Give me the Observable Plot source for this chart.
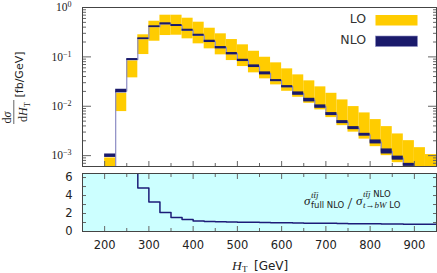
<!DOCTYPE html>
<html><head><meta charset="utf-8">
<script src="https://cdn.jsdelivr.net/npm/d3@7"></script>
<script src="https://cdn.jsdelivr.net/npm/@observablehq/plot@0.6"></script>
<style>
html,body{margin:0;padding:0;background:#fff;}
#wrap{position:relative;width:437px;height:273px;overflow:hidden;}
#wrap > svg{position:absolute;left:0;}
</style></head><body><div id="wrap"></div>
<script>
// ---- data ----
const binEdges = [200,225,250,275,300,325,350,375,400,425,450,475,500,525,550,575,600,625,650,675,700,725,750,775,800,825,850,875,900,925,950];
const loLow  = [4.0e-4,0.0078,0.0376,0.1115,0.2074,0.2706,0.2745,0.232,0.1837,0.1455,0.110,0.0842,0.0637,0.0475,0.0359,0.0271,0.0201,0.0152,0.01148,0.00844,0.00589,0.00405,0.00299,0.00216,0.00152,0.00100,0.00072,0.00050,0.00035,0.00028];
const loHigh = [8.98e-4,0.0183,0.0831,0.280,0.527,0.698,0.698,0.607,0.504,0.3805,0.293,0.2245,0.1753,0.130,0.0983,0.0757,0.0572,0.0432,0.0327,0.0247,0.0183,0.01345,0.00985,0.00733,0.00537,0.00387,0.00275,0.00201,0.00145,0.00105];
const nloLow = [9.2e-4,0.0187,0.0843,0.2245,0.393,0.446,0.412,0.331,0.262,0.1952,0.1455,0.110,0.0804,0.0608,0.0432,0.0316,0.0236,0.01668,0.01226,0.0091,0.00647,0.00445,0.00336,0.00248,0.001726,0.00108,0.00081,0.000607,0.00045,0.00033];
const nloHigh= [1.08e-3,0.0221,0.0925,0.243,0.426,0.490,0.452,0.363,0.2875,0.2174,0.162,0.1224,0.0895,0.0689,0.0497,0.0347,0.0262,0.01954,0.0145,0.01066,0.00744,0.00512,0.00387,0.00283,0.00208,0.001367,0.000977,0.000698,0.00052,0.00038];
const nloCentral = [1e-4,0.0203,0.0883,0.2335,0.409,0.467,0.432,0.347,0.275,0.206,0.1535,0.116,0.0848,0.0647,0.0463,0.0331,0.0249,0.0181,0.01335,0.00985,0.00694,0.00477,0.00361,0.00265,0.00189,0.00122,0.00089,0.00065,0.000485,0.000355];
const ratio = [null,null,10,4.84,3.29,2.11,1.55,1.33,1.18,1.12,1.09,1.06,1.04,1.03,1.0,0.98,0.96,0.95,0.93,0.92,0.91,0.89,0.87,0.86,0.85,0.84,0.83,0.82,0.81,0.82];
const yMajorTicks = [1e-3,1e-2,1e-1,1];
const yTickLabels = ["10^−3","10^−2","10^−1","10^0"];
const xMajorTicks = [200,300,400,500,600,700,800,900];
const xMinorTicks = [250,350,450,550,650,750,850];
const ratioTicks = [0,1,2,3,4,5,6];
const ratioTickLabels = [0,2,4,6];

// ---- derived tables ----
const nb = binEdges.length - 1;
const rows = d3.range(nb).map(i => ({x0: binEdges[i], x1: binEdges[i+1], loLow: loLow[i], loHigh: loHigh[i], nloLow: nloLow[i], nloHigh: nloHigh[i]}));
const steps = binEdges.map((e,i) => ({x: e, y: nloCentral[Math.min(i, nb-1)]}));
const ratioPts = binEdges.map((e,i) => ({x: e, y: ratio[Math.min(i, nb-1)]}));
const yMinor = [];
for (let k = -4; k <= 0; k++) for (let m = 2; m <= 9; m++) { const v = m * Math.pow(10,k); if (v > Math.pow(10,-3.22) && v < 1) yMinor.push(v); }

const YEL = "#ffcc00", NAVY = "#1a1a6b", LINE = "#8c8cc4", TICK = "#666";
const blank = () => "";

const topSvg = Plot.plot({
  width: 437, height: 170, marginTop: 7, marginBottom: 4, marginLeft: 82, marginRight: 1,
  style: {background: "transparent", color: "#222", fontFamily: "Liberation Serif", fontSize: "11.5px"},
  x: {domain: [150, 950], axis: null},
  y: {type: "log", domain: [Math.pow(10,-3.22), 1], axis: null},
  marks: [
    Plot.rect(rows, {x1: "x0", x2: "x1", y1: "loLow", y2: "loHigh", fill: YEL, clip: true}),
    Plot.line(steps, {x: "x", y: "y", curve: "step-after", stroke: LINE, strokeWidth: 1.2, clip: true}),
    Plot.rect(rows, {x1: "x0", x2: "x1", y1: "nloLow", y2: "nloHigh", fill: NAVY, clip: true}),
    Plot.axisY({anchor: "left", ticks: yMinor, tickSize: -4, tickFormat: blank, label: null, stroke: TICK}),
    Plot.axisY({anchor: "left", ticks: yMajorTicks, tickSize: -9, tickFormat: blank, label: null, stroke: TICK}),
    Plot.axisY({anchor: "right", ticks: yMinor, tickSize: -4, tickFormat: blank, label: null, stroke: TICK}),
    Plot.axisY({anchor: "right", ticks: yMajorTicks, tickSize: -9, tickFormat: blank, label: null, stroke: TICK}),
    Plot.axisY({anchor: "left", ticks: yMajorTicks, tickSize: 0, tickPadding: 11, label: null,
      tickFormat: d => yTickLabels[yMajorTicks.indexOf(d)]}),
    Plot.axisX({anchor: "bottom", ticks: xMajorTicks, tickSize: -5, tickFormat: blank, label: null, stroke: TICK}),
    Plot.axisX({anchor: "bottom", ticks: xMinorTicks, tickSize: -3, tickFormat: blank, label: null, stroke: TICK}),
    Plot.frame({stroke: "#444"})
  ]
});
topSvg.style.top = "0px";
d3.select(topSvg).selectAll("text").each(function(){
  const t = this.textContent; const parts = t.split("^");
  if (parts.length === 2) {
    this.textContent = parts[0];
    d3.select(this).append("tspan").attr("dy", "-0.5em").attr("font-size", "8px").text(parts[1]);
  }
});

const botSvg = Plot.plot({
  width: 437, height: 107, marginTop: 7, marginBottom: 42, marginLeft: 82, marginRight: 1,
  style: {background: "transparent", color: "#222", fontFamily: "DejaVu Sans", fontSize: "11.5px"},
  x: {domain: [150, 950], axis: null},
  y: {domain: [0, 6.45], axis: null},
  marks: [
    Plot.frame({fill: "#ccffff"}),
    Plot.line(ratioPts, {x: "x", y: "y", curve: "step-after", stroke: "#1c1c78", strokeWidth: 1.5, clip: true}),
    Plot.axisY({anchor: "left", ticks: ratioTicks, tickSize: -4, tickFormat: blank, label: null, stroke: TICK}),
    Plot.axisY({anchor: "right", ticks: ratioTicks, tickSize: -4, tickFormat: blank, label: null, stroke: TICK}),
    Plot.axisY({anchor: "left", ticks: ratioTickLabels, tickSize: 0, tickPadding: 10, label: null, tickFormat: d => String(d)}),
    Plot.axisX({anchor: "top", ticks: xMajorTicks, tickSize: -5, tickFormat: blank, label: null, stroke: TICK}),
    Plot.axisX({anchor: "top", ticks: xMinorTicks, tickSize: -3, tickFormat: blank, label: null, stroke: TICK}),
    Plot.axisX({anchor: "bottom", ticks: xMajorTicks, tickSize: -5, tickFormat: blank, label: null, stroke: TICK}),
    Plot.axisX({anchor: "bottom", ticks: xMinorTicks, tickSize: -3, tickFormat: blank, label: null, stroke: TICK}),
    Plot.axisX({anchor: "bottom", ticks: xMajorTicks, tickSize: 0, tickPadding: 9, label: null, tickFormat: d => String(d)}),
    Plot.frame({stroke: "#444"})
  ]
});
botSvg.style.top = "166px";

const wrap = document.getElementById("wrap");
wrap.appendChild(topSvg);
wrap.appendChild(botSvg);

// ---- labels, legend ----
const ns = "http://www.w3.org/2000/svg";
const ov = document.createElementNS(ns, "svg");
ov.setAttribute("width", 437); ov.setAttribute("height", 273);
ov.style.top = "0px"; ov.style.pointerEvents = "none";
ov.innerHTML = `
<g fill="#222">
 <text transform="translate(10.5,117.5) rotate(-90)" text-anchor="middle" font-family="Liberation Serif" font-size="12">d<tspan font-style="italic">σ</tspan></text>
 <line x1="13.8" x2="13.8" y1="100" y2="124" stroke="#222" stroke-width="0.7"/>
 <text transform="translate(27,112) rotate(-90)" text-anchor="middle" font-family="Liberation Serif" font-size="12">d<tspan font-style="italic">H</tspan><tspan font-size="8.5" dy="2.5">T</tspan></text>
 <text transform="translate(22.5,74.5) rotate(-90)" text-anchor="middle" font-family="DejaVu Sans" font-size="11">[fb/GeV]</text>

 <text x="366" y="23.3" text-anchor="end" font-family="DejaVu Sans" font-size="12.5" fill="#333">LO</text>
 <text x="366" y="44.3" text-anchor="end" font-family="DejaVu Sans" font-size="12.5" fill="#333">NLO</text>

 <text x="304" y="205" font-family="Liberation Serif" font-style="italic" font-size="13">σ</text>
 <text x="311" y="197.5" font-family="Liberation Serif" font-style="italic" font-size="9">tt̄j</text>
 <text x="311" y="207.5" font-family="DejaVu Sans" font-size="8.5">full NLO</text>
 <text x="347.5" y="209" font-family="Liberation Serif" font-size="17">/</text>
 <text x="356" y="205" font-family="Liberation Serif" font-style="italic" font-size="13">σ</text>
 <text x="363" y="197" font-family="Liberation Serif" font-size="9"><tspan font-style="italic">tt̄j</tspan><tspan font-family="DejaVu Sans" font-size="8.5"> NLO</tspan></text>
 <text x="363" y="207.5" font-family="Liberation Serif" font-size="9"><tspan font-style="italic">t→bW</tspan><tspan font-family="DejaVu Sans" font-size="8.5"> LO</tspan></text>

 <text x="232" y="270" font-family="Liberation Serif" font-style="italic" font-size="13.5">H</text>
 <text x="242" y="272" font-family="Liberation Serif" font-size="9">T</text>
 <text x="254" y="270" font-family="DejaVu Sans" font-size="12">[GeV]</text>
</g>`;
// legend swatches
const sw = [[15, YEL, "none"], [36, NAVY, LINE]];
sw.forEach(([y, f, s]) => {
  const r = document.createElementNS(ns, "rect");
  r.setAttribute("x", 375.5); r.setAttribute("y", y); r.setAttribute("width", 42); r.setAttribute("height", 10.5);
  r.setAttribute("fill", f); r.setAttribute("stroke", s); r.setAttribute("stroke-width", 0.6);
  ov.appendChild(r);
});
wrap.appendChild(ov);
</script>
</body></html>
